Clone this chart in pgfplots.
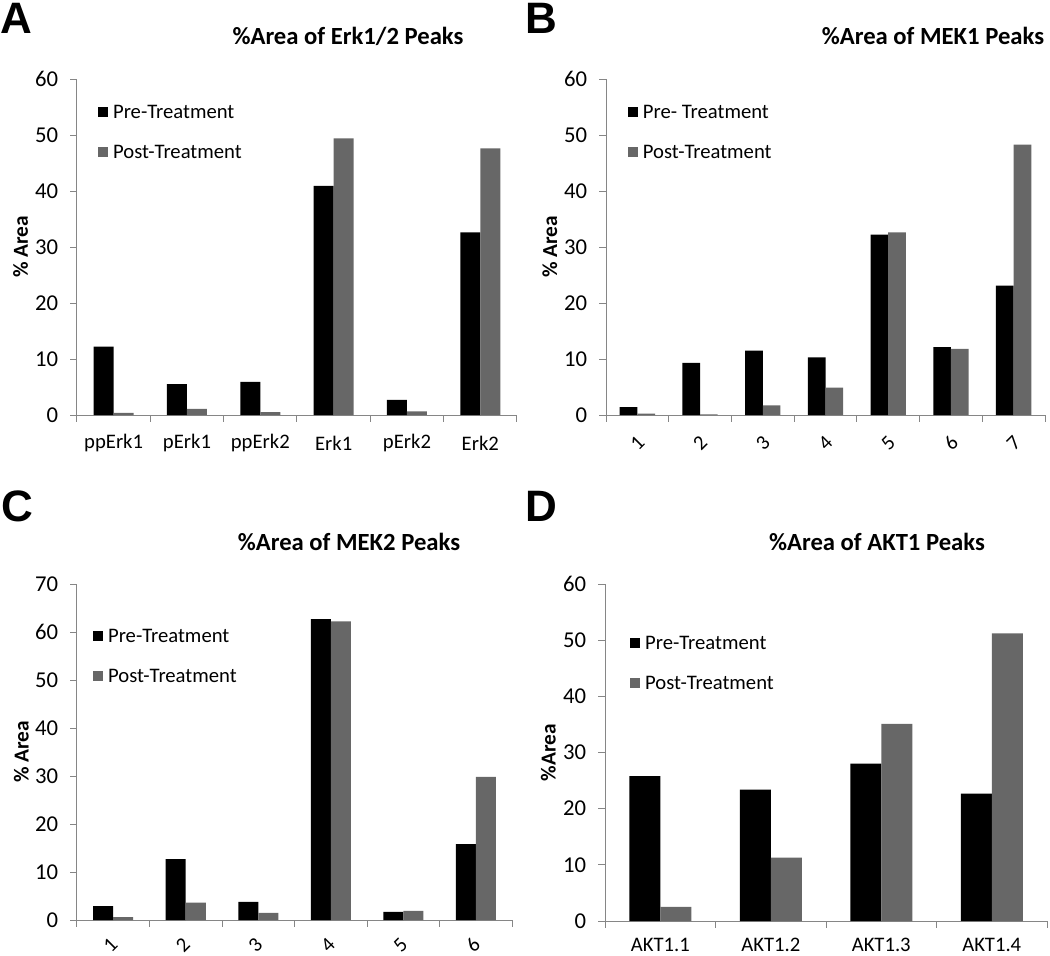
\documentclass[border=0pt]{standalone}
\usepackage{fontspec}
\setmainfont{Carlito}
\newfontfamily\letterfont{Liberation Sans}
\usepackage{pgfplots}
\pgfplotsset{compat=1.18}
\definecolor{axisgray}{HTML}{868686}
\definecolor{postgray}{HTML}{676767}

\pgfplotsset{
  peaks/.style={
    scale only axis, height=252pt,
    ybar=0pt, ymin=0,
    axis x line*=bottom, axis y line*=left,
    axis line style={draw=axisgray, line width=0.75pt},
    tick align=outside, major tick length=5pt,
    every tick/.style={draw=axisgray, line width=0.75pt},
    /pgf/number format/assume math mode=true,
    yticklabel style={font=\fontsize{17}{17}\selectfont, inner sep=0pt, xshift=-9pt},
    xticklabels={},
    extra x tick style={major tick length=0pt,
      xticklabel style={font=\fontsize{15.5}{15.5}\selectfont, anchor=center, inner sep=0pt, yshift=-21pt}},
    ylabel style={font=\bfseries\fontsize{16}{16}\selectfont, at={(axis description cs:-0.128,0.5)}, anchor=center},
    legend style={draw=none, fill=none, inner sep=0pt, outer sep=0pt,
      anchor=west, row sep=16.5pt, column sep=3.75pt,
      nodes={inner sep=0pt, text height=10.5pt, text depth=3pt, font=\fontsize{15.5}{15.5}\selectfont}},
    legend cell align=left,
    legend image code/.code={\path[##1] (0pt,-2.6pt) rectangle (7.5pt,4.9pt);},
  },
  pre/.style={fill=black, draw=none},
  post/.style={fill=postgray, draw=none},
}

\begin{document}
\begin{tikzpicture}
\path[use as bounding box] (0,0) rectangle (787.5pt,-717pt);

% A: Erk1/2
\begin{axis}[peaks, at={(57.75pt,-311.25pt)}, anchor=south west,
  width=330pt, bar width=15pt,
  xmin=0.5, xmax=6.5, ymax=60, ytick={0,10,...,60},
  xtick={0.5,1.5,...,6.5},
  extra x ticks={1,2,3,4,5,6},
  extra x tick labels={ppErk1,pErk1,ppErk2,Erk1,pErk2,Erk2},
  ylabel={\% Area},
  legend style={at={(axis description cs:0.048,0.838)}}]
\addplot[pre] coordinates {(1,12.2) (2,5.5) (3,5.9) (4,40.9) (5,2.7) (6,32.6)};
\addplot[post] coordinates {(1,0.4) (2,1.1) (3,0.5) (4,49.4) (5,0.65) (6,47.6)};
\legend{Pre-Treatment, Post-Treatment}
\end{axis}

% B: MEK1
\begin{axis}[peaks, at={(454.5pt,-311.25pt)}, anchor=south west,
  width=329.25pt, bar width=13.25pt,
  xmin=0.5, xmax=7.5, ymax=60, ytick={0,10,...,60},
  xtick={0.5,1.5,...,7.5},
  extra x ticks={1,2,3,4,5,6,7},
  extra x tick labels={1,2,3,4,5,6,7},
  extra x tick style={xticklabel style={rotate=45}},
  ylabel={\% Area},
  legend style={at={(axis description cs:0.05,0.838)}}]
\addplot[pre] coordinates {(1,1.4) (2,9.3) (3,11.5) (4,10.3) (5,32.2) (6,12.1) (7,23.1)};
\addplot[post] coordinates {(1,0.25) (2,0.1) (3,1.7) (4,4.9) (5,32.6) (6,11.8) (7,48.3)};
\legend{Pre- Treatment, Post-Treatment}
\end{axis}

% C: MEK2
\begin{axis}[peaks, at={(57.75pt,-690pt)}, anchor=south west,
  width=326.25pt, bar width=15pt,
  xmin=0.5, xmax=6.5, ymax=70, ytick={0,10,...,70},
  xtick={0.5,1.5,...,6.5},
  extra x ticks={1,2,3,4,5,6},
  extra x tick labels={1,2,3,4,5,6},
  extra x tick style={xticklabel style={rotate=45, yshift=3pt}},
  ylabel={\% Area},
  legend style={at={(axis description cs:0.037,0.78)}}]
\addplot[pre] coordinates {(1,2.9) (2,12.7) (3,3.8) (4,62.7) (5,1.7) (6,15.8)};
\addplot[post] coordinates {(1,0.6) (2,3.6) (3,1.5) (4,62.2) (5,1.9) (6,29.8)};
\legend{Pre-Treatment, Post-Treatment}
\end{axis}

% D: AKT1
\begin{axis}[peaks, at={(453.75pt,-690.75pt)}, anchor=south west,
  width=331.5pt, height=252.75pt, bar width=23.25pt,
  xmin=0.5, xmax=4.5, ymax=60, ytick={0,10,...,60},
  xtick={0.5,1.5,...,4.5},
  extra x ticks={1,2,3,4},
  extra x tick labels={AKT1.1,AKT1.2,AKT1.3,AKT1.4},
  extra x tick style={xticklabel style={yshift=3pt}},
  ylabel={\%Area},
  legend style={at={(axis description cs:0.057,0.76)}}]
\addplot[pre] coordinates {(1,25.8) (2,23.4) (3,28.0) (4,22.7)};
\addplot[post] coordinates {(1,2.5) (2,11.3) (3,35.1) (4,51.2)};
\legend{Pre-Treatment, Post-Treatment}
\end{axis}

% titles
\begin{scope}[every node/.style={font=\bfseries\fontsize{18.5}{18.5}\selectfont, anchor=center, inner sep=0pt}]
\node at (261pt,-27pt) {\%Area of Erk1/2 Peaks};
\node at (699.75pt,-27pt) {\%Area of MEK1 Peaks};
\node at (261.75pt,-406.5pt) {\%Area of MEK2 Peaks};
\node at (657.75pt,-406.5pt) {\%Area of AKT1 Peaks};
\end{scope}

% panel letters
\begin{scope}[every node/.style={font=\letterfont\bfseries\fontsize{33}{33}\selectfont, anchor=base west, inner sep=0pt}]
\node at (0pt,-25.5pt) {A};
\node at (393.75pt,-25.5pt) {B};
\node at (1pt,-390.75pt) {C};
\node at (393.75pt,-390.75pt) {D};
\end{scope}
\end{tikzpicture}
\end{document}
